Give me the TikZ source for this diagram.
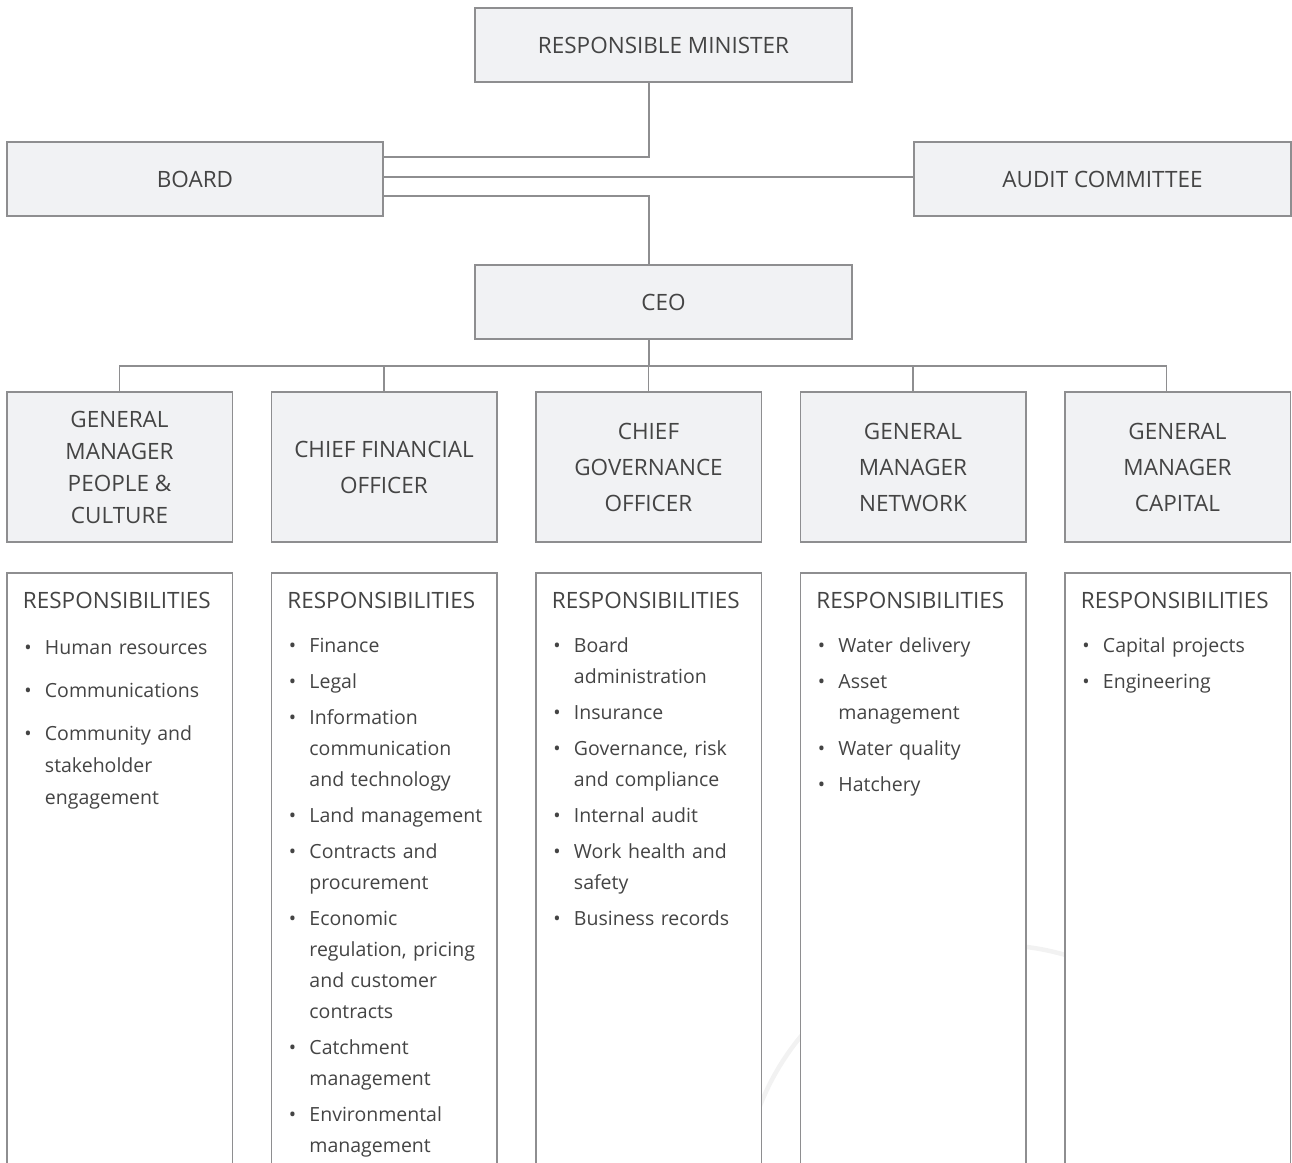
\documentclass[tikz,border=0pt]{standalone}
\usepackage{fontspec}
\setmainfont{Open Sans}
\usepackage{xcolor}
\usetikzlibrary{positioning}
\definecolor{boxfill}{HTML}{F1F2F4}
\definecolor{boxline}{HTML}{8E8E90}
\definecolor{mytext}{HTML}{444444}
\definecolor{ringgrey}{HTML}{F2F2F2}
\tikzset{node distance=39pt}
\tikzstyle{head} = [draw=boxline, fill=boxfill, line width=1.5pt, outer sep=0pt, inner sep=0pt, minimum width=377pt, minimum height=74pt, align=center, text=mytext, font={\fontsize{22.5}{27}\selectfont}]
\tikzstyle{role} = [head, minimum width=225.5pt, minimum height=150pt]
\tikzstyle{resp} = [draw=boxline, fill=white, line width=1.5pt, outer sep=0pt, minimum width=225.5pt, minimum height=640pt]
\tikzstyle{list} = [anchor=north west, inner sep=0pt, text width=215pt, align=left, text=mytext, font={\fontsize{19.5}{31}\selectfont}]
\tikzstyle{ln} = [draw=boxline, line width=1.6pt]
\newcommand{\rtitle}{{\fontsize{22.5}{27}\selectfont RESPONSIBILITIES\par}}
\newcommand{\ritem}[1]{\par\hangindent=22pt\hangafter=1\noindent\makebox[22pt][l]{\hspace{1.5pt}\textbullet}#1}

\begin{document}
\begin{tikzpicture}[x=1pt, y=-1pt]
  \useasboundingbox (0,0) rectangle (1292,1162);
  \clip (0,0) rectangle (1292,1162);
  \draw[ringgrey, line width=4.5pt] (995,1197) circle[radius=252];

  \node[head] (minister) at (663.5,45) {RESPONSIBLE MINISTER};
  \node[head, minimum width=376pt] (board) at (195,179) {BOARD};
  \node[head] (audit) at (1102.5,179) {AUDIT COMMITTEE};
  \node[head, below=183pt of minister] (ceo) {CEO};

  \node[role, font={\fontsize{22.5}{32}\selectfont}] (pc) at (119.5,467) {GENERAL\\MANAGER\\PEOPLE \&\\CULTURE};
  \node[role, font={\fontsize{22.5}{36}\selectfont}, right=of pc] (cfo) {CHIEF FINANCIAL\\OFFICER};
  \node[role, font={\fontsize{22.5}{36}\selectfont}, right=of cfo] (cgo) {CHIEF\\GOVERNANCE\\OFFICER};
  \node[role, font={\fontsize{22.5}{36}\selectfont}, right=of cgo] (net) {GENERAL\\MANAGER\\NETWORK};
  \node[role, font={\fontsize{22.5}{36}\selectfont}, right=of net] (cap) {GENERAL\\MANAGER\\CAPITAL};

  \draw[ln] ([xshift=-14.5pt]minister.south) |- ([yshift=22pt]board.east);
  \draw[ln] ([yshift=2pt]board.east) -- ([yshift=2pt]board.east -| audit.west);
  \draw[ln] ([yshift=-17pt]board.east) -| ([xshift=-14.5pt]ceo.north);
  \coordinate (bar) at (649,366);
  \draw[ln] ([xshift=-14.5pt]ceo.south) -- (bar);
  \draw[ln] (pc.north) |- ([xshift=-11pt]cap.north |- bar) -- ([xshift=-11pt]cap.north);
  \foreach \n in {cfo,cgo,net}
    \draw[ln] (\n.north) -- (\n.north |- bar);

  \node[resp, below=31pt of pc] (pcbox) {};
  \node[resp, below=31pt of cfo] (cfobox) {};
  \node[resp, below=31pt of cgo] (cgobox) {};
  \node[resp, below=31pt of net] (netbox) {};
  \node[resp, below=31pt of cap] (capbox) {};

  \node[list] (pclist) at ([xshift=16pt,yshift=-19pt]pcbox.north west) {\setlength{\parskip}{11pt}\rtitle
    \vspace{3pt}\fontsize{19.5}{32}\selectfont
    \ritem{Human resources}
    \ritem{Communications}
    \ritem{Community and\newline stakeholder\newline engagement}\par};
  \node[list] (cfolist) at ([xshift=16pt,yshift=-19pt]cfobox.north west) {\setlength{\parskip}{5pt}\rtitle
    \vspace{8pt}
    \ritem{Finance}
    \ritem{Legal}
    \ritem{Information\newline communication\newline and technology}
    \ritem{Land management}
    \ritem{Contracts and\newline procurement}
    \ritem{Economic\newline regulation, pricing\newline and customer\newline contracts}
    \ritem{Catchment\newline management}
    \ritem{Environmental\newline management}\par};
  \node[list] (cgolist) at ([xshift=16pt,yshift=-19pt]cgobox.north west) {\setlength{\parskip}{5pt}\rtitle
    \vspace{8pt}
    \ritem{Board\newline administration}
    \ritem{Insurance}
    \ritem{Governance, risk\newline and compliance}
    \ritem{Internal audit}
    \ritem{Work health and\newline safety}
    \ritem{Business records}\par};
  \node[list] (netlist) at ([xshift=16pt,yshift=-19pt]netbox.north west) {\setlength{\parskip}{5pt}\rtitle
    \vspace{8pt}
    \ritem{Water delivery}
    \ritem{Asset\newline management}
    \ritem{Water quality}
    \ritem{Hatchery}\par};
  \node[list] (caplist) at ([xshift=16pt,yshift=-19pt]capbox.north west) {\setlength{\parskip}{5pt}\rtitle
    \vspace{8pt}
    \ritem{Capital projects}
    \ritem{Engineering}\par};
\end{tikzpicture}
\end{document}
